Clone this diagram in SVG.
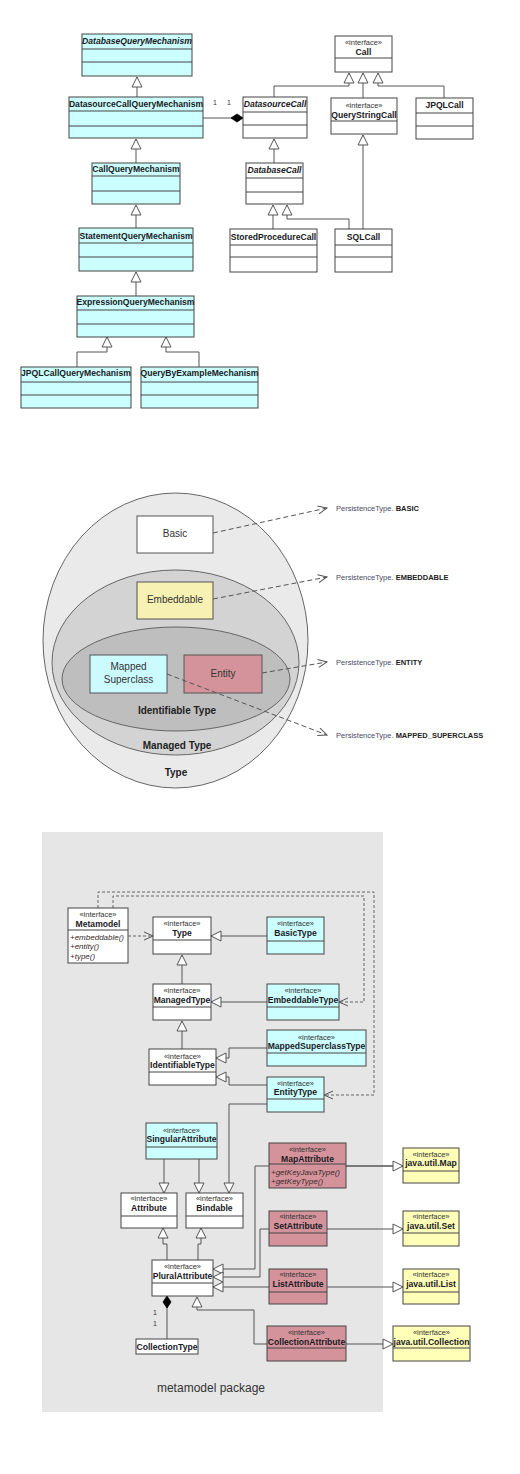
<svg xmlns="http://www.w3.org/2000/svg" width="520" height="1474" viewBox="0 0 520 1474">
  <style>
    text { font-family: "Liberation Sans", Arial, sans-serif; }
    .box { stroke: #444; stroke-width: 1; }
    .sep { stroke: #444; stroke-width: 1; fill: none; }
    .cy { fill: #ccffff; }
    .wh { fill: #ffffff; }
    .rd { fill: #d4939b; }
    .yl { fill: #ffffb8; }
    .nm { font-size: 8.6px; font-weight: bold; fill: #1a1a24; text-anchor: middle; }
    .it { font-style: italic; }
    .st { font-size: 7.5px; fill: #333; text-anchor: middle; }
    .op { font-size: 8px; font-style: italic; fill: #3a2a2a; }
    .mult { font-size: 7px; fill: #333; }
    .ln { stroke: #555; stroke-width: 1; fill: none; }
    .dash { stroke: #666; stroke-width: 1; fill: none; stroke-dasharray: 3 2; }
    .pdash { stroke: #555; stroke-width: 1; fill: none; stroke-dasharray: 5 3; }
    .ring { stroke: #666; stroke-width: 1; }
    .lbl { font-size: 10px; fill: #333; text-anchor: middle; }
    .blbl { font-size: 10px; font-weight: bold; fill: #222; text-anchor: middle; }
    .pt { font-size: 7.5px; fill: #4a4a66; }
    .pt tspan { font-weight: bold; fill: #222; }
  </style>
  <defs>
    <marker id="gen" markerUnits="userSpaceOnUse" markerWidth="12" markerHeight="12" refX="10" refY="5" orient="auto" viewBox="-1 -1 12 12">
      <path d="M0,0 L10,5 L0,10 Z" fill="#fff" stroke="#555" stroke-width="1"/>
    </marker>
    <marker id="comp" markerUnits="userSpaceOnUse" markerWidth="14" markerHeight="10" refX="12" refY="4" orient="auto" viewBox="-1 -1 14 10">
      <path d="M0,4 L6,0 L12,4 L6,8 Z" fill="#000" stroke="#000" stroke-width="0.8"/>
    </marker>
    <marker id="open" markerUnits="userSpaceOnUse" markerWidth="12" markerHeight="12" refX="9" refY="4" orient="auto" viewBox="-1 -1 12 10">
      <path d="M0,0 L9,4 L0,8" fill="none" stroke="#555" stroke-width="1"/>
    </marker>
  </defs>

  <!-- ===== Query mechanism / call hierarchy ===== -->
  <g id="connectors-top">
    <path class="ln" d="M137,97 V77" marker-end="url(#gen)"/>
    <path class="ln" d="M136,163 V139" marker-end="url(#gen)"/>
    <path class="ln" d="M136,228 V205" marker-end="url(#gen)"/>
    <path class="ln" d="M136,296 V272" marker-end="url(#gen)"/>
    <path class="ln" d="M77,367 V352 H107 V337" marker-end="url(#gen)"/>
    <path class="ln" d="M199,367 V352 H166 V337" marker-end="url(#gen)"/>
    <path class="ln" d="M203,118 H243" marker-end="url(#comp)"/>
    <path class="ln" d="M274,97 V86 H349 V73" marker-end="url(#gen)"/>
    <path class="ln" d="M363,98 V73" marker-end="url(#gen)"/>
    <path class="ln" d="M444,98 V86 H378 V73" marker-end="url(#gen)"/>
    <path class="ln" d="M274,163 V139" marker-end="url(#gen)"/>
    <path class="ln" d="M273,229 V205" marker-end="url(#gen)"/>
    <path class="ln" d="M349,229 V219 H287 V205" marker-end="url(#gen)"/>
    <path class="ln" d="M363,229 V135" marker-end="url(#gen)"/>
    <text class="mult" x="213" y="105">1</text>
    <text class="mult" x="227" y="105" fill="#3a5a3a">1</text>
  </g>

  <g id="DatabaseQueryMechanism">
    <rect class="box cy" x="82" y="34" width="110" height="42"/>
    <path class="sep" d="M82,49 H192 M82,62 H192"/>
    <text class="nm it" x="137" y="44">DatabaseQueryMechanism</text>
  </g>
  <g id="DatasourceCallQueryMechanism">
    <rect class="box cy" x="69" y="97" width="134" height="41"/>
    <path class="sep" d="M69,111 H203 M69,126 H203"/>
    <text class="nm" x="136" y="107">DatasourceCallQueryMechanism</text>
  </g>
  <g id="CallQueryMechanism">
    <rect class="box cy" x="92" y="163" width="88" height="41"/>
    <path class="sep" d="M92,176 H180 M92,191 H180"/>
    <text class="nm" x="136" y="172">CallQueryMechanism</text>
  </g>
  <g id="StatementQueryMechanism">
    <rect class="box cy" x="79" y="228" width="114" height="43"/>
    <path class="sep" d="M79,243 H193 M79,257 H193"/>
    <text class="nm" x="136" y="239">StatementQueryMechanism</text>
  </g>
  <g id="ExpressionQueryMechanism">
    <rect class="box cy" x="77" y="296" width="117" height="41"/>
    <path class="sep" d="M77,310 H194 M77,324 H194"/>
    <text class="nm" x="135.5" y="305">ExpressionQueryMechanism</text>
  </g>
  <g id="JPQLCallQueryMechanism">
    <rect class="box cy" x="21" y="367" width="110" height="41"/>
    <path class="sep" d="M21,382 H131 M21,395 H131"/>
    <text class="nm" x="76" y="376">JPQLCallQueryMechanism</text>
  </g>
  <g id="QueryByExampleMechanism">
    <rect class="box cy" x="141" y="367" width="117" height="41"/>
    <path class="sep" d="M141,382 H258 M141,395 H258"/>
    <text class="nm" x="199.5" y="376">QueryByExampleMechanism</text>
  </g>
  <g id="Call">
    <rect class="box wh" x="335" y="36" width="57" height="36"/>
    <path class="sep" d="M335,58 H392"/>
    <text class="st" x="363.5" y="45">«interface»</text>
    <text class="nm" x="363.5" y="55">Call</text>
  </g>
  <g id="DatasourceCall">
    <rect class="box wh" x="243" y="97" width="64" height="41"/>
    <path class="sep" d="M243,112 H307 M243,125 H307"/>
    <text class="nm it" x="275" y="107">DatasourceCall</text>
  </g>
  <g id="QueryStringCall">
    <rect class="box wh" x="331" y="98" width="66" height="36"/>
    <path class="sep" d="M331,121 H397"/>
    <text class="st" x="364" y="108">«interface»</text>
    <text class="nm" x="364" y="118">QueryStringCall</text>
  </g>
  <g id="JPQLCall">
    <rect class="box wh" x="416" y="98" width="57" height="41"/>
    <path class="sep" d="M416,113 H473 M416,126 H473"/>
    <text class="nm" x="444.5" y="108">JPQLCall</text>
  </g>
  <g id="DatabaseCall">
    <rect class="box wh" x="246" y="163" width="57" height="41"/>
    <path class="sep" d="M246,178 H303 M246,192 H303"/>
    <text class="nm it" x="274.5" y="173">DatabaseCall</text>
  </g>
  <g id="StoredProcedureCall">
    <rect class="box wh" x="230" y="229" width="87" height="43"/>
    <path class="sep" d="M230,245 H317 M230,257 H317"/>
    <text class="nm" x="273.5" y="240">StoredProcedureCall</text>
  </g>
  <g id="SQLCall">
    <rect class="box wh" x="335" y="229" width="57" height="43"/>
    <path class="sep" d="M335,245 H392 M335,257 H392"/>
    <text class="nm" x="363.5" y="240">SQLCall</text>
  </g>

  <!-- ===== Type nesting (Type / Managed Type / Identifiable Type) ===== -->
  <g id="type-sets">
    <ellipse class="ring" cx="175.5" cy="640.5" rx="132.5" ry="147.5" fill="#eaeaea"/>
    <ellipse class="ring" cx="175.5" cy="662.5" rx="123.5" ry="92.5" fill="#d3d3d3"/>
    <ellipse class="ring" cx="176" cy="679" rx="114" ry="52" fill="#bebebe"/>
    <text class="blbl" x="177" y="714">Identifiable Type</text>
    <text class="blbl" x="177" y="749">Managed Type</text>
    <text class="blbl" x="176" y="776">Type</text>
  </g>
  <g id="Basic">
    <rect x="137" y="516" width="76" height="37" fill="#fff" stroke="#555"/>
    <text class="lbl" x="175" y="537">Basic</text>
  </g>
  <g id="Embeddable">
    <rect x="137" y="582" width="76" height="37" fill="#f7f1b3" stroke="#555"/>
    <text class="lbl" x="175" y="603">Embeddable</text>
  </g>
  <g id="MappedSuperclass">
    <rect x="90" y="655" width="77" height="38" fill="#ccfbff" stroke="#555"/>
    <text class="lbl" x="128.5" y="670" fill="#3a4a5a">Mapped</text>
    <text class="lbl" x="128.5" y="683" fill="#3a4a5a">Superclass</text>
  </g>
  <g id="Entity">
    <rect x="184" y="655" width="78" height="38" fill="#d4939b" stroke="#555"/>
    <text class="lbl" x="223" y="677" fill="#4a2a30">Entity</text>
  </g>
  <g id="persistence-links">
    <path class="pdash" d="M213,533 L327,508" marker-end="url(#open)"/>
    <path class="pdash" d="M213,599 L327,577" marker-end="url(#open)"/>
    <path class="pdash" d="M262,673 L327,662" marker-end="url(#open)"/>
    <path class="pdash" d="M167,674 L327,735" marker-end="url(#open)"/>
  </g>
  <g id="persistence-labels">
    <text class="pt" x="336" y="511">PersistenceType. <tspan>BASIC</tspan></text>
    <text class="pt" x="336" y="580">PersistenceType. <tspan>EMBEDDABLE</tspan></text>
    <text class="pt" x="336" y="665">PersistenceType. <tspan>ENTITY</tspan></text>
    <text class="pt" x="336" y="738">PersistenceType. <tspan>MAPPED_SUPERCLASS</tspan></text>
  </g>

  <!-- ===== metamodel package ===== -->
  <rect id="package" x="42" y="832" width="341" height="580" fill="#e6e6e6"/>
  <text x="211" y="1392" font-size="12" fill="#333" text-anchor="middle" font-family="Liberation Sans, Arial, sans-serif">metamodel package</text>

  <g id="connectors-meta">
    <path class="dash" d="M98,908 V892 H374 V1095 H324" marker-end="url(#open)"/>
    <path class="dash" d="M113,908 V896 H364 V1002 H339" marker-end="url(#open)"/>
    <path class="dash" d="M128,936 H153" marker-end="url(#open)"/>
    <path class="ln" d="M267,936 H211" marker-end="url(#gen)"/>
    <path class="ln" d="M182,984 V955" marker-end="url(#gen)"/>
    <path class="ln" d="M267,1002 H211" marker-end="url(#gen)"/>
    <path class="ln" d="M182,1049 V1021" marker-end="url(#gen)"/>
    <path class="ln" d="M267,1048 H229 V1058 H216" marker-end="url(#gen)"/>
    <path class="ln" d="M267,1085 H229 V1077 H216" marker-end="url(#gen)"/>
    <path class="ln" d="M267,1104 H229 V1193" marker-end="url(#gen)"/>
    <path class="ln" d="M164,1159 V1193" marker-end="url(#gen)"/>
    <path class="ln" d="M199,1159 V1193" marker-end="url(#gen)"/>
    <path class="ln" d="M167,1260 V1244 H163 V1228" marker-end="url(#gen)"/>
    <path class="ln" d="M198,1260 V1244 H201 V1228" marker-end="url(#gen)"/>
    <path class="ln" d="M393,1166 H255 V1269 H213" marker-end="url(#gen)"/>
    <path class="ln" d="M269,1166 H403" marker-end="url(#gen)"/>
    <path class="ln" d="M327,1229 H260 V1277 H213" marker-end="url(#gen)"/>
    <path class="ln" d="M327,1229 H403" marker-end="url(#gen)"/>
    <path class="ln" d="M269,1287 H213" marker-end="url(#gen)"/>
    <path class="ln" d="M327,1287 H403" marker-end="url(#gen)"/>
    <path class="ln" d="M267,1344 H254 V1310 H197 V1297" marker-end="url(#gen)"/>
    <path class="ln" d="M346,1344 H393" marker-end="url(#gen)"/>
    <path class="ln" d="M167,1339 V1296" marker-end="url(#comp)"/>
    <text class="mult" x="153" y="1315" fill="#5a3a6a">1</text>
    <text class="mult" x="153" y="1326" fill="#3a6a3a">1</text>
  </g>

  <g id="Metamodel">
    <rect class="box wh" x="68" y="908" width="60" height="55"/>
    <path class="sep" d="M68,930 H128"/>
    <text class="st" x="98" y="917">«interface»</text>
    <text class="nm" x="98" y="927">Metamodel</text>
    <text class="op" x="70" y="940">+embeddable()</text>
    <text class="op" x="70" y="949">+entity()</text>
    <text class="op" x="70" y="959">+type()</text>
  </g>
  <g id="Type">
    <rect class="box wh" x="153" y="917" width="58" height="37"/>
    <path class="sep" d="M153,940 H211"/>
    <text class="st" x="182" y="926">«interface»</text>
    <text class="nm" x="182" y="936">Type</text>
  </g>
  <g id="BasicType">
    <rect class="box cy" x="267" y="917" width="57" height="37"/>
    <path class="sep" d="M267,941 H324"/>
    <text class="st" x="295.5" y="926">«interface»</text>
    <text class="nm" x="295.5" y="936">BasicType</text>
  </g>
  <g id="ManagedType">
    <rect class="box wh" x="153" y="984" width="58" height="36"/>
    <path class="sep" d="M153,1007 H211"/>
    <text class="st" x="182" y="993">«interface»</text>
    <text class="nm" x="182" y="1003">ManagedType</text>
  </g>
  <g id="EmbeddableType">
    <rect class="box cy" x="267" y="984" width="72" height="36"/>
    <path class="sep" d="M267,1007 H339"/>
    <text class="st" x="303" y="993">«interface»</text>
    <text class="nm" x="303" y="1003">EmbeddableType</text>
  </g>
  <g id="MappedSuperclassType">
    <rect class="box cy" x="267" y="1030" width="99" height="36"/>
    <path class="sep" d="M267,1053 H366"/>
    <text class="st" x="316.5" y="1040">«interface»</text>
    <text class="nm" x="316.5" y="1049">MappedSuperclassType</text>
  </g>
  <g id="IdentifiableType">
    <rect class="box wh" x="149" y="1049" width="67" height="36"/>
    <path class="sep" d="M149,1072 H216"/>
    <text class="st" x="182.5" y="1059">«interface»</text>
    <text class="nm" x="182.5" y="1068">IdentifiableType</text>
  </g>
  <g id="EntityType">
    <rect class="box cy" x="267" y="1077" width="57" height="35"/>
    <path class="sep" d="M267,1099 H324"/>
    <text class="st" x="295.5" y="1086">«interface»</text>
    <text class="nm" x="295.5" y="1095">EntityType</text>
  </g>
  <g id="SingularAttribute">
    <rect class="box cy" x="146" y="1123" width="71" height="36"/>
    <path class="sep" d="M146,1147 H217"/>
    <text class="st" x="181.5" y="1133">«interface»</text>
    <text class="nm" x="181.5" y="1142">SingularAttribute</text>
  </g>
  <g id="Attribute">
    <rect class="box wh" x="121" y="1193" width="56" height="35"/>
    <path class="sep" d="M121,1216 H177"/>
    <text class="st" x="149" y="1201">«interface»</text>
    <text class="nm" x="149" y="1211">Attribute</text>
  </g>
  <g id="Bindable">
    <rect class="box wh" x="186" y="1193" width="57" height="35"/>
    <path class="sep" d="M186,1216 H243"/>
    <text class="st" x="214.5" y="1201">«interface»</text>
    <text class="nm" x="214.5" y="1211">Bindable</text>
  </g>
  <g id="PluralAttribute">
    <rect class="box wh" x="152" y="1260" width="61" height="36"/>
    <path class="sep" d="M152,1283 H213"/>
    <text class="st" x="182.5" y="1269">«interface»</text>
    <text class="nm" x="182.5" y="1279">PluralAttribute</text>
  </g>
  <g id="CollectionType">
    <rect class="box wh" x="136" y="1339" width="62" height="15"/>
    <text class="nm" x="167" y="1350">CollectionType</text>
  </g>
  <g id="MapAttribute">
    <rect class="box rd" x="269" y="1143" width="77" height="45"/>
    <path class="sep" d="M269,1164 H346"/>
    <text class="st" x="307.5" y="1152">«interface»</text>
    <text class="nm" x="307.5" y="1162">MapAttribute</text>
    <text class="op" x="271" y="1175">+getKeyJavaType()</text>
    <text class="op" x="271" y="1184">+getKeyType()</text>
  </g>
  <g id="SetAttribute">
    <rect class="box rd" x="269" y="1211" width="58" height="35"/>
    <path class="sep" d="M269,1233 H327"/>
    <text class="st" x="298" y="1219">«interface»</text>
    <text class="nm" x="298" y="1229">SetAttribute</text>
  </g>
  <g id="ListAttribute">
    <rect class="box rd" x="269" y="1269" width="58" height="35"/>
    <path class="sep" d="M269,1292 H327"/>
    <text class="st" x="298" y="1277">«interface»</text>
    <text class="nm" x="298" y="1287">ListAttribute</text>
  </g>
  <g id="CollectionAttribute">
    <rect class="box rd" x="267" y="1326" width="79" height="35"/>
    <path class="sep" d="M267,1348 H346"/>
    <text class="st" x="306.5" y="1335">«interface»</text>
    <text class="nm" x="306.5" y="1345">CollectionAttribute</text>
  </g>
  <g id="java.util.Map">
    <rect class="box yl" x="403" y="1148" width="56" height="35"/>
    <path class="sep" d="M403,1171 H459"/>
    <text class="st" x="431" y="1157">«interface»</text>
    <text class="nm" x="431" y="1166">java.util.Map</text>
  </g>
  <g id="java.util.Set">
    <rect class="box yl" x="403" y="1211" width="56" height="35"/>
    <path class="sep" d="M403,1233 H459"/>
    <text class="st" x="431" y="1219">«interface»</text>
    <text class="nm" x="431" y="1229">java.util.Set</text>
  </g>
  <g id="java.util.List">
    <rect class="box yl" x="403" y="1269" width="56" height="35"/>
    <path class="sep" d="M403,1292 H459"/>
    <text class="st" x="431" y="1277">«interface»</text>
    <text class="nm" x="431" y="1287">java.util.List</text>
  </g>
  <g id="java.util.Collection">
    <rect class="box yl" x="393" y="1326" width="77" height="35"/>
    <path class="sep" d="M393,1348 H470"/>
    <text class="st" x="431.5" y="1335">«interface»</text>
    <text class="nm" x="431.5" y="1345">java.util.Collection</text>
  </g>
</svg>
